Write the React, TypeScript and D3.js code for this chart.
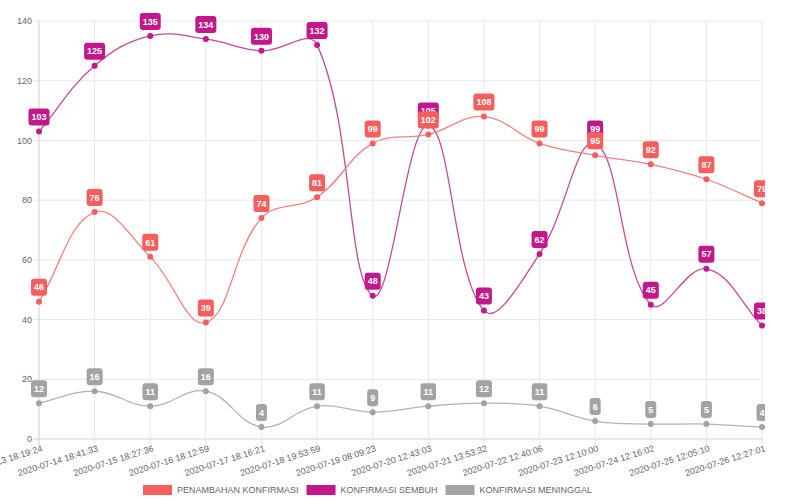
import React from 'react';
import * as d3 from 'd3';

const labels = [
  '2020-07-13 18:19:24',
  '2020-07-14 18:41:33',
  '2020-07-15 18:27:36',
  '2020-07-16 18:12:59',
  '2020-07-17 18:16:21',
  '2020-07-18 19:53:59',
  '2020-07-19 08:09:23',
  '2020-07-20 12:43:03',
  '2020-07-21 13:53:32',
  '2020-07-22 12:40:06',
  '2020-07-23 12:10:00',
  '2020-07-24 12:16:02',
  '2020-07-25 12:05:10',
  '2020-07-26 12:27:01',
];

const penambahan = [46, 76, 61, 39, 74, 81, 99, 102, 108, 99, 95, 92, 87, 79];
const sembuh = [103, 125, 135, 134, 130, 132, 48, 105, 43, 62, 99, 45, 57, 38];
const meninggal = [12, 16, 11, 16, 4, 11, 9, 11, 12, 11, 6, 5, 5, 4];

const yTicks = [0, 20, 40, 60, 80, 100, 120, 140];

const series = [
  { name: 'PENAMBAHAN KONFIRMASI', values: penambahan, color: '#f65e5e', line: '#f48080' },
  { name: 'KONFIRMASI SEMBUH', values: sembuh, color: '#c2188b', line: '#c54a9c' },
  { name: 'KONFIRMASI MENINGGAL', values: meninggal, color: '#a3a3a3', line: '#b3b3b3' },
];

const width = 800;
const height = 500;
const left = 39;
const right = 762;
const top = 21;
const bottom = 439;
const clipRight = 765;
const FONT = "'Liberation Sans', Arial, Helvetica, sans-serif";

// chart.js style bezier spline (tension 0.4)
const splinePath = (pts: [number, number][], t = 0.4) => {
  const cps = pts.map((cur, i) => {
    const prev = i > 0 ? pts[i - 1] : cur;
    const next = i < pts.length - 1 ? pts[i + 1] : cur;
    const d01 = Math.hypot(cur[0] - prev[0], cur[1] - prev[1]);
    const d12 = Math.hypot(next[0] - cur[0], next[1] - cur[1]);
    let s01 = d01 / (d01 + d12);
    let s12 = d12 / (d01 + d12);
    if (isNaN(s01)) s01 = 0;
    if (isNaN(s12)) s12 = 0;
    const fa = t * s01;
    const fb = t * s12;
    const clampY = (y: number) => Math.max(top, Math.min(bottom, y));
    return {
      c1: [cur[0] - fa * (next[0] - prev[0]), clampY(cur[1] - fa * (next[1] - prev[1]))],
      c2: [cur[0] + fb * (next[0] - prev[0]), clampY(cur[1] + fb * (next[1] - prev[1]))],
    };
  });
  let d = `M${pts[0][0]},${pts[0][1]}`;
  for (let i = 1; i < pts.length; i++) {
    d += `C${cps[i - 1].c2[0]},${cps[i - 1].c2[1]} ${cps[i].c1[0]},${cps[i].c1[1]} ${pts[i][0]},${pts[i][1]}`;
  }
  return d;
};

let ctx: CanvasRenderingContext2D | null = null;
const measure = (text: string, font: string) => {
  if (!ctx) ctx = document.createElement('canvas').getContext('2d');
  if (!ctx) return text.length * 6;
  ctx.font = font;
  return ctx.measureText(text).width;
};

const App = () => {
  const x = d3.scalePoint<string>().domain(labels).range([left, right]);
  const y = d3.scaleLinear().domain([0, 140]).range([bottom, top]);

  // legend layout
  const legendFont = `9px ${FONT}`;
  const boxW = 29;
  let lx = 143;
  const legendItems = series.map((s) => {
    const item = { ...s, x: lx };
    lx += boxW + 5 + measure(s.name, legendFont) + 8;
    return item;
  });

  const drawOrder = [...series].reverse();

  return (
    <svg
      width={width}
      height={height}
      style={{ position: 'absolute', left: 0, top: 0, background: '#fff' }}
      fontFamily={FONT}
    >
      <defs>
        <clipPath id="plotclip">
          <rect x={0} y={0} width={clipRight} height={height} />
        </clipPath>
      </defs>
      {/* grid */}
      {yTicks.map((t) => (
        <g key={'y' + t}>
          <line x1={left - 6} x2={right} y1={y(t)} y2={y(t)} stroke={t === 0 ? '#cfcfcf' : '#e8e8e8'} strokeWidth={1} />
          <text x={32} y={y(t)} dy="0.35em" textAnchor="end" fontSize={9} fill="#666">
            {t}
          </text>
        </g>
      ))}
      {labels.map((l, i) => (
        <g key={l}>
          <line x1={x(l)} x2={x(l)} y1={top} y2={bottom + 6} stroke={i === 0 ? '#cfcfcf' : '#e8e8e8'} strokeWidth={1} />
          <text
            transform={`translate(${(x(l) as number) + 3},${bottom + 9}) rotate(-17.5)`}
            textAnchor="end"
            dy="0.35em"
            fontSize={9}
            fill="#666"
          >
            {l}
          </text>
        </g>
      ))}
      {/* lines */}
      {drawOrder.map((s) => {
        const pts = s.values.map((v, i) => [x(labels[i]) as number, y(v)] as [number, number]);
        return (
          <g key={s.name}>
            <path d={splinePath(pts)} fill="none" stroke={s.line} strokeWidth={1.3} />
            {pts.map((p, i) => (
              <circle key={i} cx={p[0]} cy={p[1]} r={3} fill={s.color} />
            ))}
          </g>
        );
      })}
      {/* data labels */}
      <g clipPath="url(#plotclip)">
        {drawOrder.map((s) => (
          <g key={s.name + 'lbl'}>
            {s.values.map((v, i) => {
              const px = x(labels[i]) as number;
              const py = y(v) - 14.5;
              const w = measure(String(v), `bold 9px ${FONT}`) + 6;
              const h = 17;
              return (
                <g key={i}>
                  <rect x={px - w / 2} y={py - h / 2} width={w} height={h} rx={3} fill={s.color} />
                  <text x={px} y={py} dy="0.35em" textAnchor="middle" fontSize={9} fontWeight="bold" fill="#fff">
                    {v}
                  </text>
                </g>
              );
            })}
          </g>
        ))}
      </g>
      {/* legend */}
      {legendItems.map((s) => (
        <g key={s.name + 'leg'}>
          <rect x={s.x} y={485} width={boxW} height={10} fill={s.color} />
          <text x={s.x + boxW + 5} y={490} dy="0.35em" fontSize={9} fill="#666">
            {s.name}
          </text>
        </g>
      ))}
    </svg>
  );
};

export default App;
